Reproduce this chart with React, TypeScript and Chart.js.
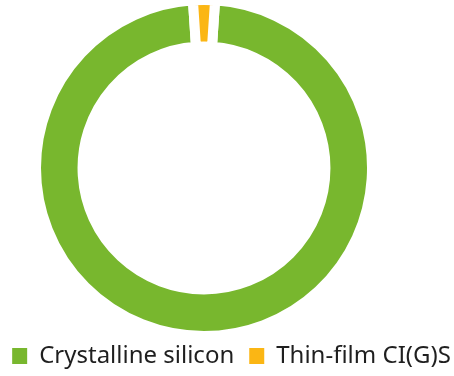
import React, { useEffect, useRef } from "react";
import { Chart, registerables } from "chart.js";

Chart.register(...registerables);

const categories = ["Crystalline silicon", "Thin-film CI(G)S"];
const shares = [97.9, 2.1];
const colors = ["#78b72e", "#fbb614"];

const FONT = "'Noto Sans', sans-serif";

export default function App() {
  const ref = useRef<HTMLCanvasElement | null>(null);

  useEffect(() => {
    if (!ref.current) return;
    const total = shares.reduce((a, b) => a + b, 0);
    const rotation = (shares[1] / total) * 180;

    const placeDonut = {
      id: "placeDonut",
      afterLayout(chart: any) {
        const a = chart.chartArea;
        const cx = 204;
        const cy = 168;
        const half = 173;
        a.left = cx - half;
        a.right = cx + half;
        a.top = cy - half;
        a.bottom = cy + half;
        a.width = half * 2;
        a.height = half * 2;
      },
    };

    const baseGen = (Chart as any).overrides.doughnut.plugins.legend.labels.generateLabels;

    const chart = new Chart(ref.current, {
      type: "doughnut",
      data: {
        labels: categories,
        datasets: [
          {
            data: shares,
            backgroundColor: colors,
            borderColor: "#ffffff",
            borderWidth: 10,
            hoverBorderWidth: 10,
          },
        ],
      },
      options: {
        animation: false,
        responsive: true,
        maintainAspectRatio: false,
        cutout: "72.3%",
        rotation: rotation,
        layout: { padding: { left: -12, right: -21, top: 0, bottom: -2 } },
        plugins: {
          tooltip: { enabled: false },
          legend: {
            position: "bottom",
            labels: {
              boxWidth: 15,
              boxHeight: 16,
              padding: 15,
              color: "#1f1f1f",
              font: { family: FONT, size: 24 },
              generateLabels: (c: any) =>
                baseGen(c).map((l: any) => ({ ...l, lineWidth: 0 })),
            },
          },
        },
      },
      plugins: [placeDonut],
    });
    return () => chart.destroy();
  }, []);

  return (
    <div style={{ position: "fixed", left: 0, top: 0, width: 454, height: 376 }}>
      <canvas ref={ref} />
    </div>
  );
}
